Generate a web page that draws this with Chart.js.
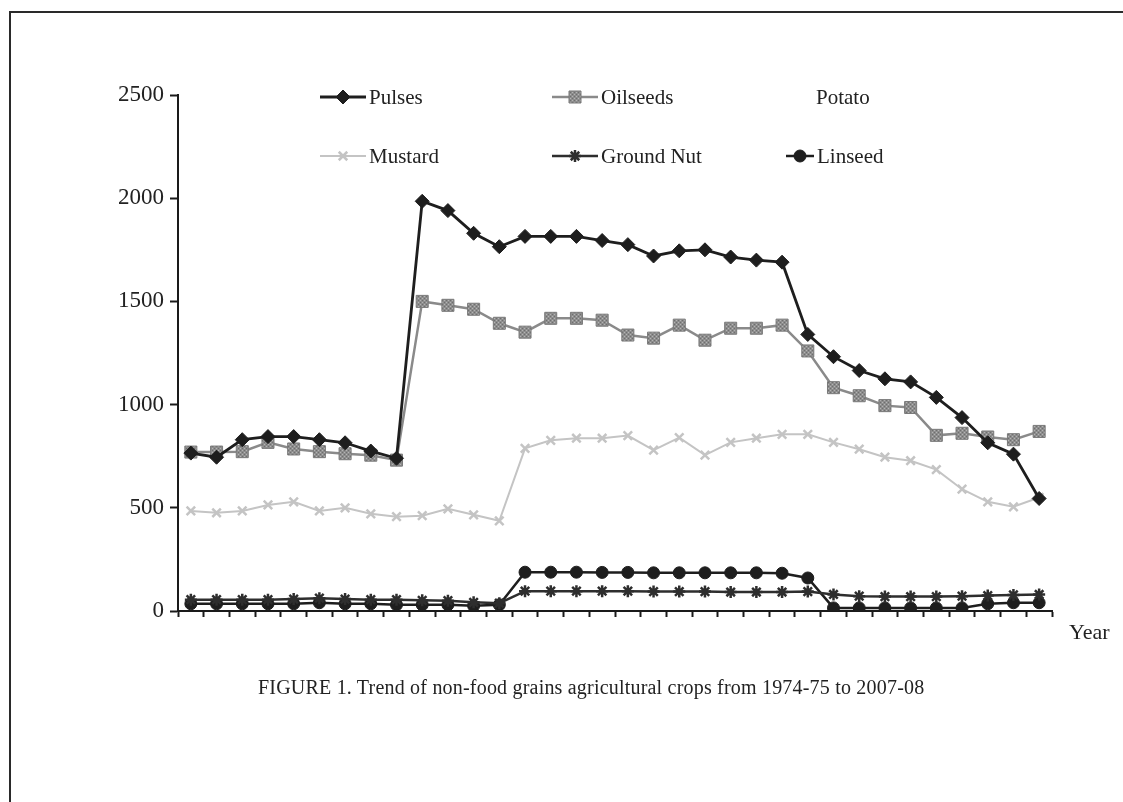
<!DOCTYPE html>
<html>
<head>
<meta charset="utf-8">
<title>Trend of non-food grains agricultural crops</title>
<script src="https://cdn.jsdelivr.net/npm/chart.js@4.4.1/dist/chart.umd.min.js"></script>
<style>
  html, body { margin: 0; padding: 0; background: #fff; overflow: hidden; }
  #page { position: relative; width: 1123px; height: 802px; overflow: hidden; background: #fff; }
  #frame { position: absolute; left: 9px; top: 11px; width: 1300px; height: 1000px; border: 2px solid #2a2a2a; box-sizing: border-box; }
  #chart { position: absolute; left: 0; top: 0; }
  .note { position: absolute; font-family: "Liberation Serif", "DejaVu Serif", serif; color: #222; white-space: nowrap; }
  #year { left: 1069px; top: 619px; font-size: 22px; }
  #caption { left: 258px; top: 676px; font-size: 20px; letter-spacing: 0.2px; }
</style>
</head>
<body>
<div id="page">
  <div id="frame"></div>
  <canvas id="chart" width="1123" height="802"></canvas>
  <div class="note" id="year">Year</div>
  <div class="note" id="caption">FIGURE 1. Trend of non-food grains agricultural crops from 1974-75 to 2007-08</div>
</div>
<script>
const years = [
  "1974-75", "1975-76", "1976-77", "1977-78", "1978-79", "1979-80", "1980-81", "1981-82", "1982-83",
  "1983-84", "1984-85", "1985-86", "1986-87", "1987-88", "1988-89", "1989-90", "1990-91", "1991-92",
  "1992-93", "1993-94", "1994-95", "1995-96", "1996-97", "1997-98", "1998-99", "1999-00", "2000-01",
  "2001-02", "2002-03", "2003-04", "2004-05", "2005-06", "2006-07", "2007-08",
];

const pulses = [765, 745, 830, 845, 845, 830, 815, 775, 740, 1985, 1940, 1830, 1765, 1815, 1815, 1815, 1795,
  1775, 1720, 1745, 1750, 1715, 1700, 1690, 1340, 1232, 1165, 1125, 1110, 1035, 937, 815, 760, 545];
const oilseeds = [770, 770, 772, 817, 785, 772, 762, 755, 731, 1500, 1481, 1462, 1394, 1351, 1418, 1418, 1409,
  1337, 1322, 1385, 1312, 1370, 1370, 1385, 1260, 1082, 1043, 995, 986, 851, 861, 843, 830, 870];
const potato = years.map(() => null);
const mustard = [485, 476, 485, 514, 529, 485, 500, 471, 457, 462, 495, 466, 437, 788, 827, 837, 837, 850,
  779, 840, 755, 817, 837, 856, 856, 817, 784, 745, 728, 685, 590, 529, 505, 550];
const groundNut = [55, 55, 55, 55, 58, 62, 58, 55, 55, 52, 50, 42, 38, 96, 96, 96, 96, 96, 94, 94, 94, 92,
  92, 92, 94, 80, 72, 70, 70, 70, 72, 75, 78, 80];
const linseed = [35, 35, 35, 35, 35, 40, 35, 35, 30, 30, 30, 25, 30, 188, 188, 188, 187, 187, 185, 185, 185,
  185, 185, 183, 160, 15, 15, 15, 15, 15, 15, 35, 40, 40];

const yTicks = [0, 500, 1000, 1500, 2000, 2500];

const SERIF = "'Liberation Serif', 'DejaVu Serif', serif";

// where each legend entry sits (two rows of three, like the figure); x = marker centre
const legendSlots = [
  { x: 343, y: 97, half: 23 },
  { x: 575, y: 97, half: 23 },
  { x: 839, y: 97, half: 23 },
  { x: 343, y: 156, half: 23 },
  { x: 575, y: 156, half: 23 },
  { x: 800, y: 156, half: 14 },
];

function seedPattern() {
  const c = document.createElement("canvas");
  c.width = 4;
  c.height = 4;
  const g = c.getContext("2d");
  g.fillStyle = "#8d8d8d";
  g.fillRect(0, 0, 4, 4);
  g.fillStyle = "#b4b4b4";
  g.fillRect(0, 0, 1, 1);
  g.fillRect(2, 2, 1, 1);
  g.fillStyle = "#6e6e6e";
  g.fillRect(2, 0, 1, 1);
  g.fillRect(0, 2, 1, 1);
  return g.createPattern(c, "repeat");
}

function series(label, data, color, style, extra) {
  return Object.assign({
    label,
    data,
    borderColor: color,
    backgroundColor: color,
    pointBackgroundColor: color,
    pointBorderColor: color,
    pointStyle: style,
    pointRadius: 5.5,
    pointBorderWidth: 1,
    borderWidth: 2.5,
    tension: 0,
    fill: false,
  }, extra || {});
}

function drawMarker(ctx, ds, x, y) {
  const h = window.Chart && Chart.helpers;
  const opts = { pointStyle: ds.pointStyle, radius: ds.pointRadius, borderWidth: ds.pointBorderWidth, rotation: 0 };
  if (h && h.drawPoint) {
    h.drawPoint(ctx, opts, x, y);
  } else {
    ctx.beginPath();
    ctx.arc(x, y, ds.pointRadius, 0, Math.PI * 2);
    ctx.fill();
  }
}

const gridLegend = {
  id: "gridLegend",
  afterDraw(chart) {
    const ctx = chart.ctx;
    chart.data.datasets.forEach((ds, i) => {
      const slot = legendSlots[i];
      if (!slot) return;
      ctx.save();
      const hasMark = ds.pointStyle && ds.borderColor !== "transparent";
      if (hasMark) {
        ctx.strokeStyle = ds.borderColor;
        ctx.lineWidth = ds.borderWidth;
        ctx.beginPath();
        ctx.moveTo(slot.x - slot.half, slot.y);
        ctx.lineTo(slot.x + slot.half, slot.y);
        ctx.stroke();
        ctx.fillStyle = ds.pointBackgroundColor;
        ctx.strokeStyle = ds.pointBorderColor;
        ctx.lineWidth = ds.pointBorderWidth;
        drawMarker(ctx, ds, slot.x, slot.y);
      }
      ctx.fillStyle = "#222";
      ctx.font = `21px ${SERIF}`;
      ctx.textBaseline = "middle";
      ctx.textAlign = "left";
      ctx.fillText(ds.label, hasMark ? slot.x + slot.half + 3 : slot.x - slot.half, slot.y + 1);
      ctx.restore();
    });
  },
};

function initChart() {
  const canvas = document.getElementById("chart");
  const pattern = seedPattern();

  new Chart(canvas, {
    type: "line",
    data: {
      labels: years,
      datasets: [
        series("Pulses", pulses, "#1e1e1e", "rectRot", { pointRadius: 7, borderWidth: 2.8 }),
        series("Oilseeds", oilseeds, "#8a8a8a", "rect", {
          pointBackgroundColor: pattern, pointBorderColor: "#7a7a7a", pointRadius: 8.5,
        }),
        series("Potato", potato, "transparent", false, { pointRadius: 0 }),
        series("Mustard", mustard, "#c4c4c4", "crossRot", {
          borderWidth: 2, pointBorderWidth: 2.5, pointRadius: 6,
        }),
        series("Ground Nut", groundNut, "#2e2e2e", "star", {
          pointBorderWidth: 2.5, pointRadius: 6,
        }),
        series("Linseed", linseed, "#1e1e1e", "circle", { pointRadius: 6 }),
      ],
    },
    options: {
      responsive: false,
      animation: false,
      devicePixelRatio: 1,
      layout: { padding: { left: 0, top: 95, right: 71, bottom: 181 } },
      plugins: {
        legend: { display: false },
        tooltip: { enabled: false },
      },
      scales: {
        x: {
          type: "category",
          offset: true,
          ticks: { display: false },
          grid: { drawOnChartArea: false, drawTicks: true, tickLength: 6, tickWidth: 2, tickColor: "#1a1a1a", offset: true },
          border: { display: true, color: "#1a1a1a", width: 2 },
          afterFit(scale) { scale.height = 10; },
        },
        y: {
          min: 0,
          max: 2500,
          afterBuildTicks(scale) { scale.ticks = yTicks.map((v) => ({ value: v })); },
          ticks: { color: "#222", padding: 6, font: { family: SERIF, size: 23 }, callback: (v) => String(v) },
          grid: { drawOnChartArea: false, drawTicks: true, tickLength: 8, tickWidth: 2, tickColor: "#1a1a1a" },
          border: { display: true, color: "#1a1a1a", width: 2 },
          afterFit(scale) { scale.width = 178; },
        },
      },
    },
    plugins: [gridLegend],
  });
}

document.addEventListener("DOMContentLoaded", initChart);
</script>
</body>
</html>
